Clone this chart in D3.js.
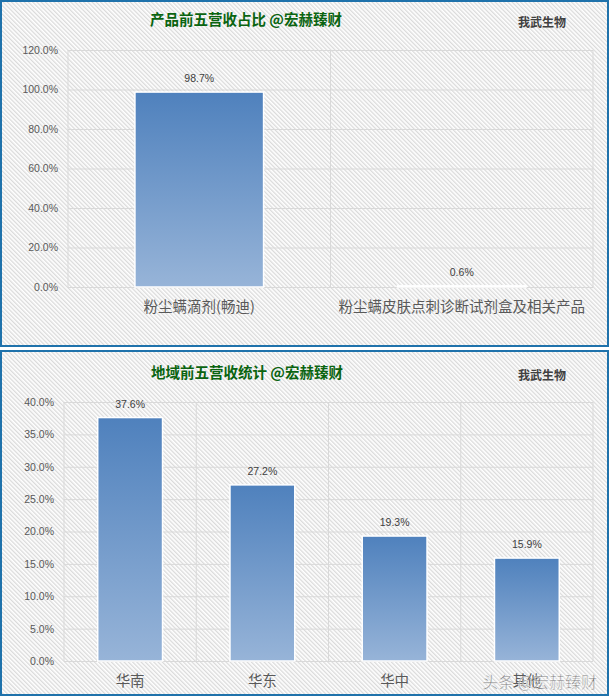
<!DOCTYPE html>
<html lang="zh">
<head>
<meta charset="UTF-8" />
<title>我武生物 营收占比</title>
<script src="https://d3js.org/d3.v7.min.js"></script>
<style>
  body { margin: 0; background: #fff; }
  svg { display: block; }
  .tick text { font-family: "Liberation Sans", sans-serif; font-size: 10.5px; fill: #595959; }
  .cat { font-family: "Noto Sans CJK SC", sans-serif; font-size: 14.5px; fill: #595959; }
  .title { font-family: "Noto Sans CJK SC", sans-serif; font-size: 14.5px; font-weight: bold; fill: #0a6410; }
  .brand { font-family: "Noto Sans CJK SC", sans-serif; font-size: 12px; font-weight: bold; fill: #404040; }
  .val { font-family: "Liberation Sans", sans-serif; font-size: 10.5px; fill: #404040; }
</style>
</head>
<body>
<script>
// product chart
const productCats = ["粉尘螨滴剂(畅迪)", "粉尘螨皮肤点刺诊断试剂盒及相关产品"];
const productVals = [0.987, 0.006];
const productTicks = [0, 0.2, 0.4, 0.6, 0.8, 1.0, 1.2];

// region chart
const regionCats = ["华南", "华东", "华中", "其他"];
const regionVals = [0.376, 0.272, 0.193, 0.159];
const regionTicks = [0, 0.05, 0.10, 0.15, 0.20, 0.25, 0.30, 0.35, 0.40];

const W = 610, H = 697;
const svg = d3.select("body").append("svg").attr("width", W).attr("height", H);
const defs = svg.append("defs");

// diagonal hatch background
const pat = defs.append("pattern")
  .attr("id", "hatch").attr("patternUnits", "userSpaceOnUse")
  .attr("width", 3).attr("height", 3)
  .attr("patternTransform", "rotate(-45)");
pat.append("rect").attr("width", 3).attr("height", 3).attr("fill", "#ffffff");
pat.append("rect").attr("width", 1.3).attr("height", 3).attr("fill", "#dadada");

const grad = defs.append("linearGradient")
  .attr("id", "barGrad").attr("x1", 0).attr("y1", 0).attr("x2", 0).attr("y2", 1);
grad.append("stop").attr("offset", "0%").attr("stop-color", "#4f81bd");
grad.append("stop").attr("offset", "100%").attr("stop-color", "#97b4d8");

const fmt = d3.format(".1%");

function drawPanel(p) {
  const g = svg.append("g");
  g.append("rect")
    .attr("x", p.box[0]).attr("y", p.box[1])
    .attr("width", p.box[2]).attr("height", p.box[3])
    .attr("fill", "url(#hatch)")
    .attr("stroke", "#1f72ab").attr("stroke-width", 2);

  g.append("text").attr("class", "title")
    .attr("x", p.titleX).attr("y", p.titleY).attr("text-anchor", "middle")
    .text(p.title);
  g.append("text").attr("class", "brand")
    .attr("x", 542).attr("y", p.titleY + 2).attr("text-anchor", "middle")
    .text("我武生物");

  const x = d3.scaleBand().domain(p.cats).range([p.left, p.right]);
  const y = d3.scaleLinear().domain([0, p.ticks[p.ticks.length - 1]]).range([p.bottom, p.top]);

  // horizontal gridlines + labels
  const ax = g.append("g")
    .attr("transform", `translate(${p.left},0)`)
    .call(d3.axisLeft(y).tickValues(p.ticks).tickFormat(fmt)
      .tickSize(-(p.right - p.left)).tickPadding(10));
  ax.select(".domain").remove();
  ax.selectAll(".tick line").attr("stroke", "#d9d9d9");

  // vertical gridlines at category boundaries
  const edges = p.cats.map(c => x(c)).concat([p.right]);
  g.append("g").selectAll("line").data(edges).join("line")
    .attr("x1", d => d).attr("x2", d => d)
    .attr("y1", p.top).attr("y2", p.bottom)
    .attr("stroke", "#d9d9d9");

  const bw = x.bandwidth() * p.barFrac;
  const bars = g.append("g").selectAll("g").data(p.vals).join("g");
  bars.append("rect")
    .attr("x", (d, i) => x(p.cats[i]) + (x.bandwidth() - bw) / 2)
    .attr("y", d => y(d))
    .attr("width", bw)
    .attr("height", d => Math.max(0.5, p.bottom - y(d)))
    .attr("fill", "url(#barGrad)")
    .attr("stroke", "#ffffff").attr("stroke-width", 1.5);
  bars.append("text").attr("class", "val")
    .attr("x", (d, i) => x(p.cats[i]) + x.bandwidth() / 2)
    .attr("y", d => y(d) - 10)
    .attr("text-anchor", "middle")
    .text(d => fmt(d));

  g.append("g").selectAll("text").data(p.cats).join("text")
    .attr("class", "cat")
    .attr("x", d => x(d) + x.bandwidth() / 2)
    .attr("y", p.catY)
    .attr("text-anchor", "middle")
    .text(d => d);
}

drawPanel({
  box: [1, 1, 607, 345], title: "产品前五营收占比 @宏赫臻财", titleX: 246, titleY: 25,
  cats: productCats, vals: productVals, ticks: productTicks,
  left: 68, right: 593, top: 50, bottom: 287, barFrac: 0.49, catY: 312
});

drawPanel({
  box: [1, 351, 607, 344], title: "地域前五营收统计 @宏赫臻财", titleX: 247, titleY: 378,
  cats: regionCats, vals: regionVals, ticks: regionTicks,
  left: 64, right: 593, top: 402, bottom: 661, barFrac: 0.49, catY: 686
});

// watermark (sits over the last category label, as in the source image)
svg.append("text")
  .attr("x", 597).attr("y", 688).attr("text-anchor", "end")
  .attr("font-family", "Noto Sans CJK SC, sans-serif").attr("font-size", 16)
  .attr("fill", "#3a3a3a").attr("fill-opacity", 0.7)
  .attr("stroke", "#ffffff").attr("stroke-width", 0.6).attr("stroke-opacity", 0.8)
  .text("头条 @宏赫臻财");
</script>
</body>
</html>
